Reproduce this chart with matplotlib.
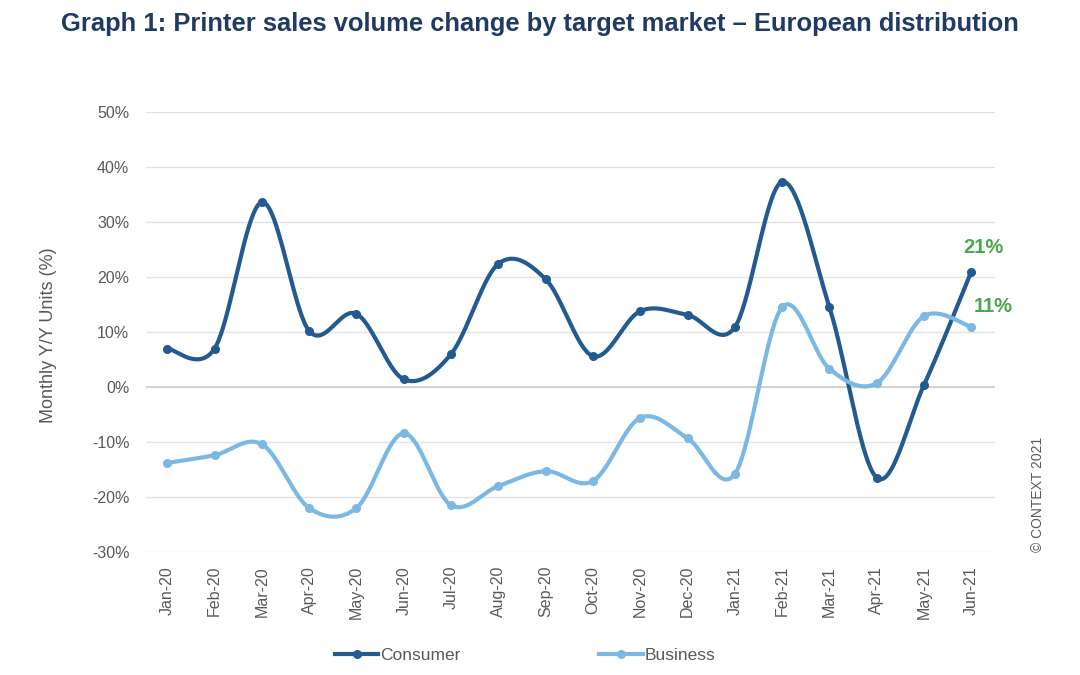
import numpy as np
import matplotlib
matplotlib.use("Agg")
import matplotlib.pyplot as plt
from matplotlib.lines import Line2D

months = ["Jan-20", "Feb-20", "Mar-20", "Apr-20", "May-20", "Jun-20", "Jul-20", "Aug-20",
          "Sep-20", "Oct-20", "Nov-20", "Dec-20", "Jan-21", "Feb-21", "Mar-21", "Apr-21",
          "May-21", "Jun-21"]
consumer = [7.0, 7.0, 33.6, 10.2, 13.3, 1.4, 6.0, 22.4, 19.6, 5.6, 13.8, 13.1, 10.9,
            37.3, 14.5, -16.5, 0.4, 21.0]
business = [-13.8, -12.4, -10.4, -22.0, -22.0, -8.4, -21.5, -18.0, -15.3, -17.1, -5.6,
            -9.3, -15.8, 14.5, 3.3, 0.7, 12.9, 10.9]
yticks = [-30, -20, -10, 0, 10, 20, 30, 40, 50]

C_CONS = "#235A91"
C_BUS = "#7CB8E4"
C_GREEN = "#4CA64F"
C_TEXT = "#595959"

plt.rcParams["font.family"] = ["Liberation Sans", "DejaVu Sans"]


def smooth(x, y, n=40):
    """Excel-like smoothed line (Catmull-Rom Bezier) through the data points."""
    x = np.asarray(x, float)
    y = np.asarray(y, float)
    P = np.column_stack([x, y])
    Pext = np.vstack([P[0], P, P[-1]])
    out = []
    t = np.linspace(0, 1, n)[:, None]
    for i in range(len(P) - 1):
        p0, p1, p2, p3 = Pext[i], Pext[i + 1], Pext[i + 2], Pext[i + 3]
        c1 = p1 + (p2 - p0) / 6.0
        c2 = p2 - (p3 - p1) / 6.0
        seg = ((1 - t) ** 3) * p1 + 3 * ((1 - t) ** 2) * t * c1 + 3 * (1 - t) * t ** 2 * c2 + t ** 3 * p2
        out.append(seg if i == 0 else seg[1:])
    S = np.vstack(out)
    return S[:, 0], S[:, 1]


fig = plt.figure(figsize=(10.8, 6.75), dpi=100)
ax = fig.add_axes([146 / 1080, 1 - 552 / 675, (995 - 146) / 1080, (552 - 112) / 675])

xs = np.arange(len(months))
for vals, col in [(consumer, C_CONS), (business, C_BUS)]:
    sx, sy = smooth(xs, vals)
    ax.plot(sx, sy, color=col, lw=3.0, solid_capstyle="round", zorder=3)
    ax.plot(xs, vals, "o", color=col, ms=5.5, zorder=4)

ax.set_xlim(-0.45, len(months) - 0.5)
ax.set_ylim(-30, 50)
ax.set_yticks(yticks)
ax.set_yticklabels([f"{v}%" for v in yticks])
ax.set_xticks(xs)
ax.set_xticklabels(months, rotation=90)
ax.tick_params(length=0, labelsize=11.5, colors=C_TEXT)
ax.tick_params(axis="y", pad=12)
ax.tick_params(axis="x", pad=10)
for s in ax.spines.values():
    s.set_visible(False)
ax.yaxis.grid(True, color="#E3E3E3", lw=1)
ax.axhline(0, color="#D0D0D0", lw=1.3, zorder=1)
ax.set_axisbelow(True)
ax.set_ylabel("Monthly Y/Y Units (%)", fontsize=13, color=C_TEXT)
ax.yaxis.set_label_coords((57 - 146) / 849, 0.493)

ax.annotate(f"{consumer[-1]:.0f}%", (xs[-1], consumer[-1]), xytext=(8.5, 17),
            textcoords="offset points", ha="center", va="center", color=C_GREEN,
            fontsize=14.5, fontweight="bold")
ax.annotate(f"{business[-1]:.0f}%", (xs[-1], business[-1]), xytext=(16, 15),
            textcoords="offset points", ha="center", va="center", color=C_GREEN,
            fontsize=14.5, fontweight="bold")

fig.text(540 / 1080, 1 - 24 / 675,
         "Graph 1: Printer sales volume change by target market \u2013 European distribution",
         ha="center", va="center", fontsize=18.4, fontweight="bold", color="#1F3B64")

fig.text(1038 / 1080, 1 - 494 / 675, "\u00a9 CONTEXT 2021", rotation=90, ha="center",
         va="center", fontsize=10, color=C_TEXT)

handles = [Line2D([], [], color=C_CONS, lw=3.0, marker="o", ms=5.5),
           Line2D([], [], color=C_BUS, lw=3.0, marker="o", ms=5.5)]
fig.legend(handles, ["Consumer", "Business"], loc="center", ncol=2,
           bbox_to_anchor=(525 / 1080, 1 - 655 / 675), frameon=False, fontsize=12.5,
           labelcolor=C_TEXT, columnspacing=8, handlelength=2.5, handletextpad=0.1)

fig.savefig("out.png", dpi=100, facecolor="white")
